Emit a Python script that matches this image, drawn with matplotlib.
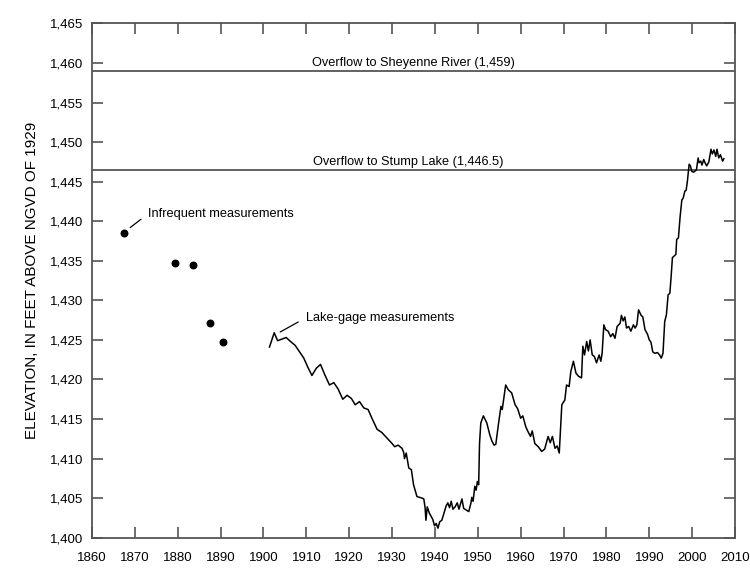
import matplotlib
matplotlib.use('Agg')
import matplotlib.pyplot as plt
from matplotlib.ticker import FuncFormatter, MultipleLocator

plt.rcParams['font.family'] = ['Liberation Sans', 'DejaVu Sans']

# Infrequent measurements (dots)
dot_years = [1867.5, 1879.4, 1883.5, 1887.5, 1890.5]
dot_elev = [1438.5, 1434.7, 1434.5, 1427.1, 1424.7]

# Lake-gage record
gage_years = [
    1901.4, 1902.5, 1903.3, 1904.3, 1905.3, 1906.3, 1907.4, 1908.4, 1909.4, 1910.3,
    1911.3, 1912.3, 1913.3, 1914.3, 1915.4, 1916.4, 1917.4, 1918.5, 1919.5, 1920.5,
    1921.4, 1922.4, 1923.4, 1924.4, 1925.3, 1926.5, 1927.6, 1928.8, 1930.0, 1930.6,
    1931.4, 1932.3, 1932.7, 1932.9, 1933.3, 1933.9, 1934.5, 1935.0, 1935.8, 1937.0,
    1937.4, 1937.7, 1937.9, 1938.2, 1938.7, 1939.1, 1939.5, 1939.9, 1940.3, 1940.7,
    1941.1, 1941.6, 1942.0, 1942.6, 1943.0, 1943.4, 1943.8, 1944.2, 1944.7, 1945.2,
    1945.6, 1946.3, 1946.7, 1947.3, 1947.9, 1948.4, 1948.6, 1948.9, 1949.3, 1949.6,
    1949.9, 1950.2, 1950.4, 1950.7, 1951.3, 1952.1, 1952.8, 1953.3, 1953.8, 1954.2,
    1954.8, 1955.4, 1955.7, 1956.5, 1957.1, 1957.9, 1958.7, 1959.3, 1960.0, 1960.5,
    1961.2, 1961.8, 1962.3, 1962.7, 1963.3, 1964.1, 1964.9, 1965.6, 1966.4, 1966.9,
    1967.4, 1968.0, 1968.5, 1969.0, 1969.6, 1970.3, 1970.7, 1971.3, 1971.7, 1972.3,
    1972.9, 1973.5, 1974.2, 1974.5, 1974.9, 1975.4, 1975.8, 1976.2, 1976.7, 1977.2,
    1977.7, 1978.3, 1978.7, 1979.0, 1979.4, 1979.8, 1980.4, 1981.0, 1981.5, 1982.0,
    1982.5, 1983.2, 1983.5, 1983.9, 1984.3, 1984.7, 1985.2, 1985.7, 1986.3, 1986.7,
    1987.1, 1987.5, 1988.1, 1988.5, 1989.0, 1989.6, 1990.0, 1990.4, 1990.8, 1991.3,
    1991.9, 1992.4, 1992.8, 1993.2, 1993.6, 1994.0, 1994.4, 1994.8, 1995.1, 1995.4,
    1995.8, 1996.2, 1996.4, 1996.8, 1997.2, 1997.6, 1997.9, 1998.3, 1998.6, 1998.9,
    1999.3, 1999.6, 1999.9, 2000.4, 2001.0, 2001.4, 2001.6, 2002.0, 2002.3, 2002.7,
    2003.0, 2003.4, 2003.9, 2004.4, 2004.7, 2005.1, 2005.5, 2005.8, 2006.2, 2006.6,
    2007.1, 2007.4,
]
gage_elev = [
    1424.1, 1425.9, 1424.9, 1425.1, 1425.3, 1424.8, 1424.3, 1423.5, 1422.7, 1421.6,
    1420.5, 1421.4, 1421.9, 1420.6, 1419.3, 1419.6, 1418.8, 1417.5, 1418.0, 1417.6,
    1416.8, 1417.2, 1416.4, 1416.2, 1415.1, 1413.7, 1413.3, 1412.6, 1411.9, 1411.5,
    1411.7, 1411.3, 1410.8, 1410.0, 1410.7, 1408.8, 1408.6, 1406.7, 1405.2, 1405.0,
    1404.9, 1403.8, 1402.2, 1403.9, 1403.1, 1402.7, 1402.3, 1401.5, 1401.8, 1401.2,
    1402.0, 1402.2, 1402.9, 1404.0, 1404.4, 1403.8, 1404.6, 1403.6, 1403.9, 1404.4,
    1403.6, 1404.9, 1403.7, 1403.5, 1403.3, 1404.4, 1405.1, 1404.6, 1406.5, 1406.0,
    1407.1, 1406.7, 1411.9, 1414.5, 1415.4, 1414.5, 1413.0, 1412.2, 1411.7, 1411.8,
    1414.3, 1416.6, 1416.2, 1419.3, 1418.7, 1418.3, 1416.8, 1416.3, 1415.1, 1415.4,
    1414.0, 1413.3, 1412.8, 1413.5, 1411.9, 1411.5, 1410.9, 1411.2, 1412.8, 1412.0,
    1412.8, 1411.3, 1411.6, 1410.7, 1416.8, 1417.4, 1419.3, 1419.1, 1421.0, 1422.3,
    1420.8, 1420.4, 1420.2, 1424.2, 1423.1, 1424.8, 1423.6, 1425.0, 1423.1, 1422.9,
    1422.1, 1423.1, 1422.3, 1423.3, 1426.9, 1426.3, 1426.1, 1425.4, 1425.8, 1425.2,
    1426.7, 1427.1, 1428.1, 1427.4, 1427.9, 1426.5, 1426.7, 1426.1, 1426.9, 1426.5,
    1426.9, 1428.8, 1428.1, 1427.9, 1426.3, 1425.7, 1425.0, 1424.7, 1423.5, 1423.3,
    1423.4, 1423.1, 1422.7, 1423.3, 1427.3, 1428.2, 1430.7, 1430.9, 1433.0, 1435.4,
    1435.6, 1435.8, 1437.7, 1437.9, 1440.6, 1442.7, 1442.9, 1443.8, 1443.9, 1445.1,
    1447.2, 1447.0, 1446.3, 1446.2, 1446.5, 1448.0, 1447.4, 1447.6, 1447.1, 1447.8,
    1447.4, 1447.0, 1447.5, 1449.1, 1448.5, 1449.0, 1448.2, 1449.1, 1448.0, 1448.4,
    1447.6, 1447.9,
]

# Overflow elevations
sheyenne = 1459.0
stump = 1446.5

fig = plt.figure(figsize=(7.5, 5.72), dpi=100)
ax = fig.add_axes([0.1227, 0.06, 0.8573, 0.899])

ax.axhline(sheyenne, color='#555555', lw=1.3)
ax.axhline(stump, color='#555555', lw=1.3)
ax.text(1934.9, sheyenne + 0.25, 'Overflow to Sheyenne River (1,459)', ha='center', va='bottom', fontsize=9.2)
ax.text(1933.7, stump + 0.25, 'Overflow to Stump Lake (1,446.5)', ha='center', va='bottom', fontsize=9.2)

ax.plot(gage_years, gage_elev, color='black', lw=1.1)
ax.scatter(dot_years, dot_elev, s=22, color='black', zorder=3)

# annotations with leader lines
ax.annotate('Infrequent measurements', xy=(1868.9, 1439.2), xytext=(1873.1, 1440.95),
            fontsize=9.2, va='center', ha='left',
            arrowprops=dict(arrowstyle='-', color='black', lw=0.9, shrinkB=0, shrinkA=4,
                            relpos=(0, 0.5)))
ax.annotate('Lake-gage measurements', xy=(1903.9, 1426.0), xytext=(1909.9, 1427.8),
            fontsize=9.2, va='center', ha='left',
            arrowprops=dict(arrowstyle='-', color='black', lw=0.9, shrinkB=0, shrinkA=4,
                            relpos=(0, 0.5)))

ax.set_xlim(1860, 2010)
ax.set_ylim(1400, 1465)
ax.xaxis.set_major_locator(MultipleLocator(10))
ax.yaxis.set_major_locator(MultipleLocator(5))
ax.yaxis.set_major_formatter(FuncFormatter(lambda v, p: f'{int(v):,}'))

for s in ax.spines.values():
    s.set_color('#555555')
    s.set_linewidth(1.3)
ax.tick_params(direction='in', length=8, width=1.2, color='#555555',
               top=True, right=True, labelsize=9.5)
ax.tick_params(axis='x', pad=10)
ax.tick_params(axis='y', pad=6)

ax.set_ylabel('ELEVATION, IN FEET ABOVE NGVD OF 1929', fontsize=11, labelpad=8)

fig.savefig('out.png', dpi=100)
